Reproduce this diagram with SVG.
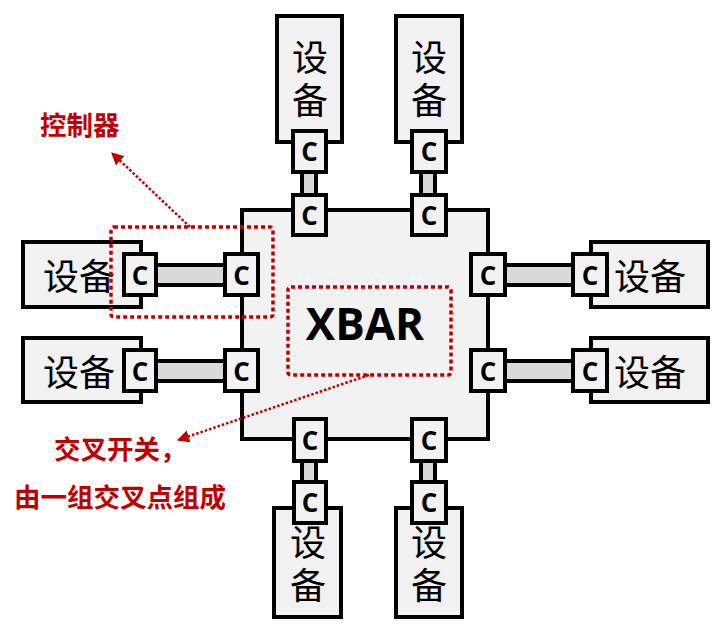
<svg xmlns="http://www.w3.org/2000/svg" width="724" height="625" viewBox="0 0 724 625">
<defs>
<style>
.dev{fill:#f2f2f2;stroke:#000;stroke-width:4}
.cb{fill:#f2f2f2;stroke:#000;stroke-width:4}
.lnk{fill:#d9d9d9;stroke:#000;stroke-width:4}
.main{fill:#f2f2f2;stroke:#000;stroke-width:4}
.dt{font-family:"Noto Sans CJK SC","Microsoft YaHei",sans-serif;font-size:36px;fill:#000;text-anchor:middle}
.vt{writing-mode:vertical-rl;letter-spacing:7px}
.ct{font-family:"Open Sans","Liberation Sans",sans-serif;font-weight:700;font-size:26px;fill:#000;text-anchor:middle}
.red{font-family:"Noto Sans CJK SC",sans-serif;font-weight:700;font-size:26.5px;fill:#c00000}
.rbox{fill:none;stroke:#c00000;stroke-width:3.5;stroke-dasharray:4 3}
.arr{fill:none;stroke:#c00000;stroke-width:2.5;stroke-dasharray:2.5 2}
</style>
<marker id="ah" viewBox="0 0 10 10" refX="9" refY="5" markerWidth="5" markerHeight="5" orient="auto" markerUnits="strokeWidth">
<path d="M0,0 L10,5 L0,10 Z" fill="#c00000"/>
</marker>
</defs>
<rect width="724" height="625" fill="#fff"/>

<g id="xbar">
<rect class="main" x="242" y="210" width="246" height="229"/>
<text x="365" y="340" font-family="Open Sans,Liberation Sans,sans-serif" font-weight="700" font-size="44" text-anchor="middle" fill="#000">XBAR</text>
</g>

<g id="connectors">
<rect class="lnk" x="302" y="168" width="14" height="32"/>
<rect class="lnk" x="421" y="168" width="14" height="32"/>
<rect class="lnk" x="302" y="457" width="14" height="30"/>
<rect class="lnk" x="421" y="457" width="14" height="30"/>
<rect class="lnk" x="152" y="265" width="78" height="20"/>
<rect class="lnk" x="152" y="361" width="78" height="20"/>
<rect class="lnk" x="501" y="265" width="78" height="20"/>
<rect class="lnk" x="501" y="361" width="78" height="20"/>
<path class="arr" d="M190,227 L112,153" marker-end="url(#ah)"/>
<path class="arr" d="M369,375 L178,440" marker-end="url(#ah)"/>
</g>

<g id="dev-top-left">
<rect class="dev" x="277" y="16" width="65" height="126"/>
<text class="dt vt" x="310" y="82">设备</text>
</g>
<g id="dev-top-right">
<rect class="dev" x="396" y="16" width="66" height="126"/>
<text class="dt vt" x="429" y="82">设备</text>
</g>
<g id="dev-bottom-left">
<rect class="dev" x="274" y="508" width="67" height="109"/>
<text class="dt vt" x="308" y="567">设备</text>
</g>
<g id="dev-bottom-right">
<rect class="dev" x="396" y="508" width="66" height="109"/>
<text class="dt vt" x="429" y="567">设备</text>
</g>
<g id="dev-left-upper">
<rect class="dev" x="23" y="242" width="118" height="65"/>
<text class="dt" x="79" y="290">设备</text>
</g>
<g id="dev-left-lower">
<rect class="dev" x="23" y="338" width="118" height="64"/>
<text class="dt" x="79" y="386">设备</text>
</g>
<g id="dev-right-upper">
<rect class="dev" x="591" y="242" width="117" height="65"/>
<text class="dt" x="650" y="290">设备</text>
</g>
<g id="dev-right-lower">
<rect class="dev" x="591" y="338" width="117" height="64"/>
<text class="dt" x="650" y="386">设备</text>
</g>

<g id="c-top-left-dev"><rect class="cb" x="293" y="131" width="33" height="41"/><text class="ct" x="309.5" y="161">C</text></g>
<g id="c-top-left-bar"><rect class="cb" x="293" y="195" width="33" height="40"/><text class="ct" x="309.5" y="224.5">C</text></g>
<g id="c-top-right-dev"><rect class="cb" x="412" y="131" width="34" height="41"/><text class="ct" x="429" y="161">C</text></g>
<g id="c-top-right-bar"><rect class="cb" x="412" y="195" width="34" height="40"/><text class="ct" x="429" y="224.5">C</text></g>
<g id="c-bot-left-bar"><rect class="cb" x="294" y="419" width="32" height="42"/><text class="ct" x="310" y="449.5">C</text></g>
<g id="c-bot-left-dev"><rect class="cb" x="294" y="482" width="32" height="41"/><text class="ct" x="310" y="512">C</text></g>
<g id="c-bot-right-bar"><rect class="cb" x="412" y="419" width="34" height="42"/><text class="ct" x="429" y="449.5">C</text></g>
<g id="c-bot-right-dev"><rect class="cb" x="412" y="482" width="34" height="41"/><text class="ct" x="429" y="512">C</text></g>
<g id="c-left-upper-dev"><rect class="cb" x="124" y="254" width="32" height="41"/><text class="ct" x="140" y="284.5">C</text></g>
<g id="c-left-upper-bar"><rect class="cb" x="225" y="254" width="33" height="41"/><text class="ct" x="241.5" y="284.5">C</text></g>
<g id="c-left-lower-dev"><rect class="cb" x="124" y="350" width="32" height="41"/><text class="ct" x="140" y="380.5">C</text></g>
<g id="c-left-lower-bar"><rect class="cb" x="225" y="350" width="33" height="41"/><text class="ct" x="241.5" y="380.5">C</text></g>
<g id="c-right-upper-bar"><rect class="cb" x="471" y="254" width="34" height="41"/><text class="ct" x="488" y="284.5">C</text></g>
<g id="c-right-upper-dev"><rect class="cb" x="573" y="254" width="34" height="41"/><text class="ct" x="590" y="284.5">C</text></g>
<g id="c-right-lower-bar"><rect class="cb" x="471" y="350" width="34" height="41"/><text class="ct" x="488" y="380.5">C</text></g>
<g id="c-right-lower-dev"><rect class="cb" x="573" y="350" width="34" height="41"/><text class="ct" x="590" y="380.5">C</text></g>

<g id="controller-highlight">
<rect class="rbox" x="111" y="227" width="162" height="90" rx="3"/>
</g>
<g id="xbar-highlight">
<rect class="rbox" x="288" y="287" width="163" height="88" rx="3"/>
</g>

<g id="labels">
<text class="red" x="40" y="135">控制器</text>
<text class="red" x="54" y="459">交叉开关，</text>
<text class="red" x="14" y="507">由一组交叉点组成</text>
</g>
</svg>
